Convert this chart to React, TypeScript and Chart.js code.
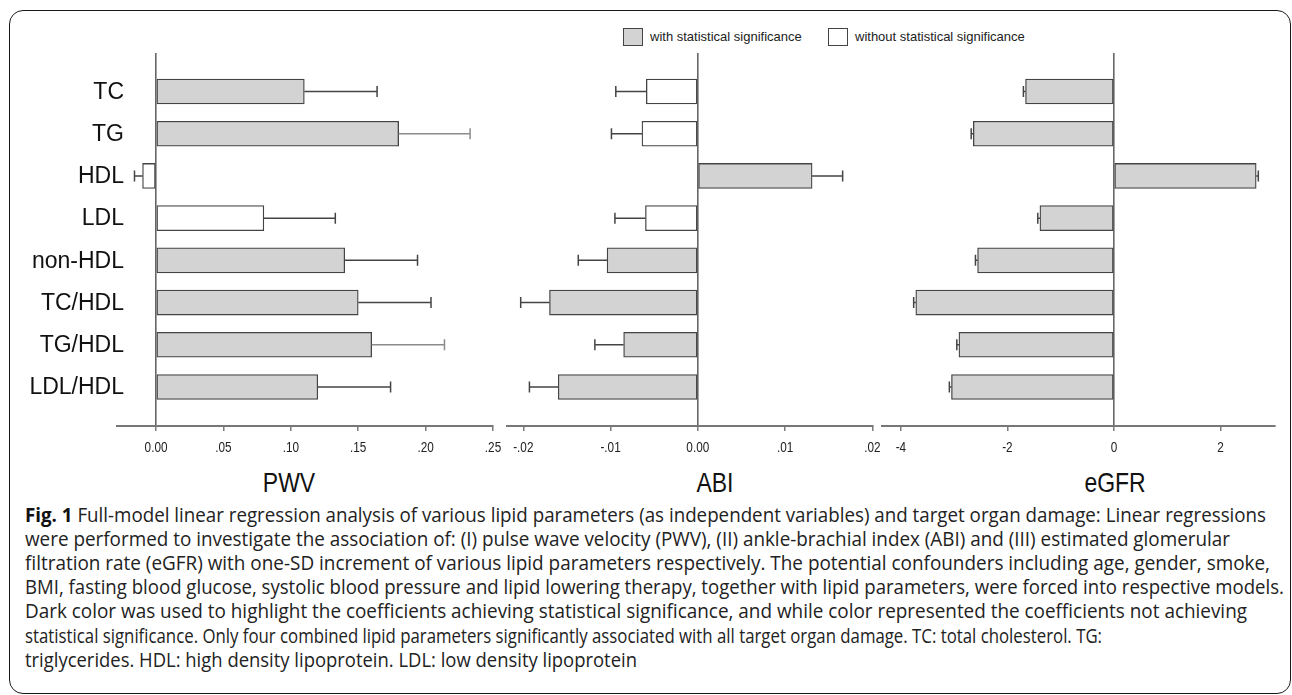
import React, { useEffect, useLayoutEffect, useRef } from "react";
import { Chart, registerables } from "chart.js";
Chart.register(...registerables);

const categories = ["TC", "TG", "HDL", "LDL", "non-HDL", "TC/HDL", "TG/HDL", "LDL/HDL"];

const pwvValues = [0.11, 0.18, -0.01, 0.08, 0.14, 0.15, 0.16, 0.12];
const pwvErrorEnds = [0.164, 0.233, -0.016, 0.133, 0.194, 0.204, 0.214, 0.174];
const pwvSignificant = [true, true, false, false, true, true, true, true];
const pwvTicks = [0, 0.05, 0.1, 0.15, 0.2, 0.25];
const pwvTickLabels = ["0.00", ".05", ".10", ".15", ".20", ".25"];

const abiValues = [-0.0059, -0.0064, 0.0131, -0.006, -0.0104, -0.017, -0.0085, -0.016];
const abiErrorEnds = [-0.0094, -0.0099, 0.0166, -0.0095, -0.0137, -0.0203, -0.0118, -0.0193];
const abiSignificant = [false, false, true, false, true, true, true, true];
const abiTicks = [-0.02, -0.01, 0, 0.01, 0.02];
const abiTickLabels = ["-.02", "-.01", "0.00", ".01", ".02"];

const egfrValues = [-1.66, -2.64, 2.67, -1.39, -2.56, -3.72, -2.91, -3.05];
const egfrErrorEnds = [-1.7, -2.68, 2.71, -1.43, -2.6, -3.76, -2.95, -3.09];
const egfrSignificant = [true, true, true, true, true, true, true, true];
const egfrTicks = [-4, -2, 0, 2];
const egfrTickLabels = ["-4", "-2", "0", "2"];

const pwvErrorLight = [false, true, false, false, false, false, true, false];

const legendLabels = ["with statistical significance", "without statistical significance"];
const axisTitles = ["PWV", "ABI", "eGFR"];

const captionBold = "Fig. 1";
const captionLines = [
  " Full-model linear regression analysis of various lipid parameters (as independent variables) and target organ damage: Linear regressions",
  "were performed to investigate the association of: (I) pulse wave velocity (PWV), (II) ankle-brachial index (ABI) and (III) estimated glomerular",
  "filtration rate (eGFR) with one-SD increment of various lipid parameters respectively. The potential confounders including age, gender, smoke,",
  "BMI, fasting blood glucose, systolic blood pressure and lipid lowering therapy, together with lipid parameters, were forced into respective models.",
  "Dark color was used to highlight the coefficients achieving statistical significance, and while color represented the coefficients not achieving",
  "statistical significance. Only four combined lipid parameters significantly associated with all target organ damage. TC: total cholesterol. TG:",
  "triglycerides. HDL: high density lipoprotein. LDL: low density lipoprotein",
];
// layout: right edge (px) of each caption line
const CAPTION_LEFT = 25;
const captionRightEdges = [1266, 1230, 1270, 1284, 1247, 1102, 637];
const titleCenters = [289, 715, 1115];

const FONT = "'Liberation Sans', Arial, Helvetica, sans-serif";
const SIG_FILL = "#d3d3d3";
const NONSIG_FILL = "#ffffff";
const EDGE = "#444444";

const errorBarPlugin = {
  id: "errorBars",
  afterDatasetsDraw(chart: any, _args: any, opts: any) {
    const meta = chart.getDatasetMeta(0);
    const xs = chart.scales.x;
    const ctx = chart.ctx;
    ctx.save();
    meta.data.forEach((el: any, i: number) => {
      const ex = xs.getPixelForValue(opts.ends[i]);
      const y = el.y;
      ctx.strokeStyle = opts.colors[i];
      ctx.lineWidth = 1.5;
      ctx.beginPath();
      ctx.moveTo(el.x, y);
      ctx.lineTo(ex, y);
      ctx.moveTo(ex, y - 5.5);
      ctx.lineTo(ex, y + 5.5);
      ctx.stroke();
    });
    ctx.restore();
  },
};

const categoryLabelPlugin = {
  id: "categoryLabels",
  afterDraw(chart: any, _args: any, opts: any) {
    if (!opts.show) return;
    const ys = chart.scales.y;
    const ctx = chart.ctx;
    ctx.save();
    ctx.font = `23px ${FONT}`;
    ctx.fillStyle = "#111";
    ctx.textAlign = "right";
    ctx.textBaseline = "middle";
    categories.forEach((c, i) => {
      ctx.fillText(c, opts.right, ys.getPixelForValue(i) + 1);
    });
    ctx.restore();
  },
};

// condensed (narrow) tick labels, positioned by the x scale
const narrowTickPlugin = {
  id: "narrowTicks",
  afterDraw(chart: any, _args: any, opts: any) {
    const xs = chart.scales.x;
    const ctx = chart.ctx;
    ctx.save();
    ctx.font = `14px ${FONT}`;
    ctx.fillStyle = "#222";
    ctx.textAlign = "center";
    ctx.textBaseline = "alphabetic";
    const baseline = xs.top + 25.7;
    opts.ticks.forEach((v: number, i: number) => {
      const x = xs.getPixelForValue(v);
      ctx.save();
      ctx.translate(x, baseline);
      ctx.scale(0.84, 1);
      ctx.fillText(opts.labels[i], 0, 0);
      ctx.restore();
    });
    ctx.restore();
  },
};

type PanelProps = {
  values: number[];
  ends: number[];
  significant: boolean[];
  ticks: number[];
  tickLabels: string[];
  min: number;
  max: number;
  showCategories: boolean;
  errColors: string[];
  left: number;
  width: number;
  padLeft: number;
  padRight: number;
};

function Panel(p: PanelProps) {
  const ref = useRef<HTMLCanvasElement | null>(null);
  useEffect(() => {
    if (!ref.current) return;
    const chart = new Chart(ref.current, {
      type: "bar",
      data: {
        datasets: [
          {
            data: p.values.map((v, i) => ({ x: v, y: i })) as any,
            backgroundColor: p.significant.map((s) => (s ? SIG_FILL : NONSIG_FILL)),
            borderColor: EDGE,
            borderWidth: 1.3,
            borderSkipped: false,
            barThickness: 25,
          },
        ],
      },
      options: {
        indexAxis: "y",
        responsive: false,
        animation: false,
        events: [],
        layout: { padding: { top: 13, bottom: 0, left: p.padLeft, right: p.padRight } },
        plugins: {
          legend: { display: false },
          tooltip: { enabled: false },
          errorBars: { ends: p.ends, colors: p.errColors },
          categoryLabels: { show: p.showCategories, right: 124 - p.left },
          narrowTicks: { ticks: p.ticks, labels: p.tickLabels },
        } as any,
        scales: {
          x: {
            type: "linear",
            min: p.min,
            max: p.max,
            offset: false,
            afterBuildTicks: (scale: any) => {
              scale.ticks = p.ticks.map((v) => ({ value: v }));
            },
            afterFit: (scale: any) => {
              scale.height = 30;
            },
            ticks: { display: false },
            grid: {
              offset: false,
              drawOnChartArea: true,
              drawTicks: true,
              tickLength: 5,
              tickColor: "#666",
              tickWidth: 1.3,
              lineWidth: 1.6,
              color: (c: any) => (c.tick && c.tick.value === 0 ? "#666" : "rgba(0,0,0,0)"),
            },
            border: { display: true, color: "#777", width: 2 },
          },
          y: {
            type: "linear",
            reverse: true,
            offset: false,
            grid: { offset: false },
            min: -0.912,
            max: 7.924,
            display: false,
          },
        },
      },
      plugins: [errorBarPlugin as any, categoryLabelPlugin as any, narrowTickPlugin as any],
    });
    return () => chart.destroy();
  }, []);
  return (
    <canvas
      ref={ref}
      width={p.width}
      height={416}
      style={{ position: "absolute", left: p.left, top: 40, width: p.width, height: 416 }}
    />
  );
}

function CaptionLine({ index, right, children }: { index: number; right: number; children: React.ReactNode }) {
  const ref = useRef<HTMLDivElement | null>(null);
  useLayoutEffect(() => {
    const el = ref.current;
    if (!el) return;
    el.style.transform = "none";
    const w = el.getBoundingClientRect().width;
    if (w > 0) el.style.transform = `scaleX(${(right - CAPTION_LEFT) / w})`;
  }, [right]);
  return (
    <div
      ref={ref}
      style={{
        position: "absolute",
        left: CAPTION_LEFT,
        top: 502.6 + index * 24.2,
        fontFamily: "'Open Sans', 'Noto Sans', sans-serif",
        fontSize: 20,
        lineHeight: "24.2px",
        color: "#222",
        whiteSpace: "nowrap",
        transformOrigin: "0 50%",
      }}
    >
      {children}
    </div>
  );
}

export default function App() {
  const dark = "#444";
  return (
    <div
      style={{
        position: "absolute",
        left: 0,
        top: 0,
        width: 1292,
        height: 695,
        overflow: "hidden",
        background: "#fff",
        fontFamily: FONT,
      }}
    >
      <div
        style={{
          position: "absolute",
          left: 9,
          top: 10,
          width: 1282,
          height: 684,
          border: "1.5px solid #1a1a1a",
          borderRadius: 14,
          boxSizing: "border-box",
        }}
      />
      {/* legend */}
      <div style={{ position: "absolute", left: 623, top: 28, width: 20, height: 18, background: SIG_FILL, border: "1.3px solid #444", boxSizing: "border-box" }} />
      <div style={{ position: "absolute", left: 650, top: 29, fontSize: 13, lineHeight: "16px", color: "#222", whiteSpace: "nowrap" }}>{legendLabels[0]}</div>
      <div style={{ position: "absolute", left: 828, top: 28, width: 20, height: 18, background: NONSIG_FILL, border: "1.3px solid #444", boxSizing: "border-box" }} />
      <div style={{ position: "absolute", left: 855, top: 29, fontSize: 13, lineHeight: "16px", color: "#222", whiteSpace: "nowrap" }}>{legendLabels[1]}</div>

      <Panel
        values={pwvValues}
        ends={pwvErrorEnds}
        significant={pwvSignificant}
        ticks={pwvTicks}
        tickLabels={pwvTickLabels}
        min={-0.0292}
        max={0.25}
        showCategories={true}
        errColors={pwvErrorLight.map((l) => (l ? "#8c8c8c" : dark))}
        left={0}
        width={512}
        padLeft={116.7}
        padRight={19}
      />
      <Panel
        values={abiValues}
        ends={abiErrorEnds}
        significant={abiSignificant}
        ticks={abiTicks}
        tickLabels={abiTickLabels}
        min={-0.02187}
        max={0.02}
        showCategories={false}
        errColors={abiValues.map(() => dark)}
        left={490}
        width={400}
        padLeft={17}
        padRight={17.7}
      />
      <Panel
        values={egfrValues}
        ends={egfrErrorEnds}
        significant={egfrSignificant}
        ticks={egfrTicks}
        tickLabels={egfrTickLabels}
        min={-4.36}
        max={3.01}
        showCategories={false}
        errColors={egfrValues.map(() => dark)}
        left={865}
        width={427}
        padLeft={16.7}
        padRight={17.7}
      />

      {/* axis titles */}
      {axisTitles.map((t, i) => (
        <div
          key={t}
          style={{
            position: "absolute",
            left: titleCenters[i] - 80,
            width: 160,
            top: 469.3,
            textAlign: "center",
            fontSize: 28,
            lineHeight: "28px",
            color: "#111",
            transform: "scaleX(0.82)",
            transformOrigin: "50% 50%",
          }}
        >
          {t}
        </div>
      ))}

      {/* caption */}
      {captionLines.map((line, i) => (
        <CaptionLine key={i} index={i} right={captionRightEdges[i]}>
          {i === 0 ? <b style={{ color: "#111" }}>{captionBold}</b> : null}
          {line}
        </CaptionLine>
      ))}
    </div>
  );
}
